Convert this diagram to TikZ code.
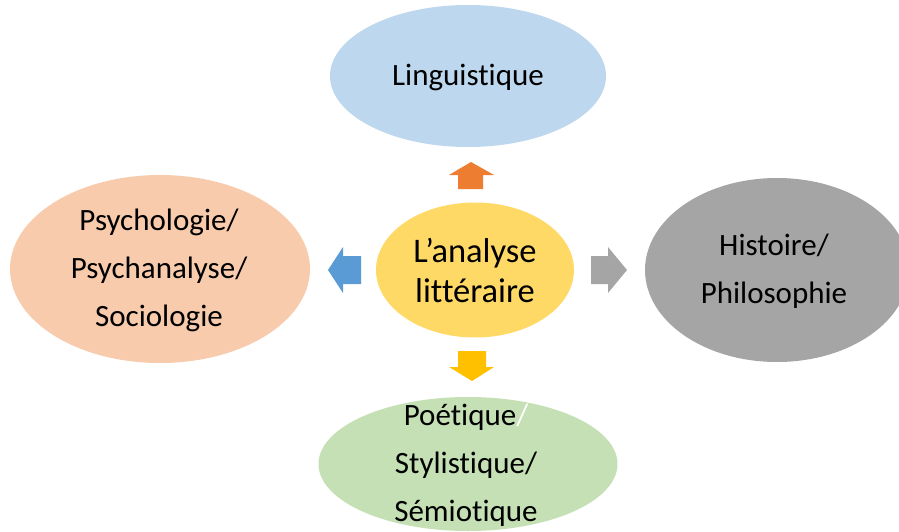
\documentclass[tikz,border=0pt]{standalone}
\usepackage{fontspec}
\setmainfont{Carlito}[RawFeature={-liga;-clig;-calt;-dlig}]
\usetikzlibrary{shapes.geometric}
\definecolor{cblue}{HTML}{BDD7EE}
\definecolor{cpeach}{HTML}{F8CBAD}
\definecolor{cgray}{HTML}{A5A5A5}
\definecolor{cgreen}{HTML}{C5E0B4}
\definecolor{cyellow}{HTML}{FFD966}
\definecolor{aorange}{HTML}{ED7D31}
\definecolor{ablue}{HTML}{5B9BD5}
\definecolor{agray}{HTML}{A5A5A5}
\definecolor{agold}{HTML}{FFC000}
\tikzset{
  blob/.style={ellipse, draw=none, inner sep=0pt},
  lbl/.style={align=center, text=black, inner sep=0pt, font=\fontsize{31}{48}\selectfont},
  biglbl/.style={align=center, text=black, inner sep=0pt, font=\fontsize{34.5}{40}\selectfont}
}
\begin{document}
\begin{tikzpicture}[x=1pt,y=-1pt]
\useasboundingbox (0,0) rectangle (899,532);
\clip (0,0) rectangle (899,532);
\fill[white] (0,0) rectangle (899,532);
% ellipses
\node[blob, fill=cblue, minimum width=276pt, minimum height=142pt] (top) at (468,76) {};
\node[blob, fill=cpeach, minimum width=300pt, minimum height=188pt] (left) at (160,269) {};
\node[blob, fill=cgray, minimum width=264pt, minimum height=184pt] (right) at (777,270) {};
\node[blob, fill=cgreen, minimum width=299pt, minimum height=134pt] (bottom) at (468,464) {};
\node[blob, fill=cyellow, minimum width=198pt, minimum height=135pt] (center) at (475,270) {};
% labels
\node[lbl] (toplbl) at (468,78) {Linguistique};
\node[lbl] (leftlbl) at (159,270) {Psychologie/\\Psychanalyse/\\Sociologie};
\node[lbl] (rightlbl) at (774,271) {Histoire/\\Philosophie};
\node[lbl] (bottomlbl) at (466,465) {Poétique\textcolor{white}{/}\\Stylistique/\\Sémiotique};
\node[biglbl] (centerlbl) at (475,270) {L’analyse\\littéraire};
% block arrows
\fill[aorange] (458,189) -- (458,175) -- (449,175) -- (471,162) -- (494,175) -- (483,175) -- (483,189) -- cycle;
\fill[ablue] (361,256) -- (343,256) -- (343,247) -- (328,270) -- (343,293) -- (343,284) -- (361,284) -- cycle;
\fill[agray] (591,256) -- (608,256) -- (608,247) -- (627,270) -- (608,293) -- (608,284) -- (591,284) -- cycle;
\fill[agold] (458,351) -- (486,351) -- (486,367) -- (494,367) -- (472,381) -- (449,367) -- (458,367) -- cycle;
\end{tikzpicture}
\end{document}
